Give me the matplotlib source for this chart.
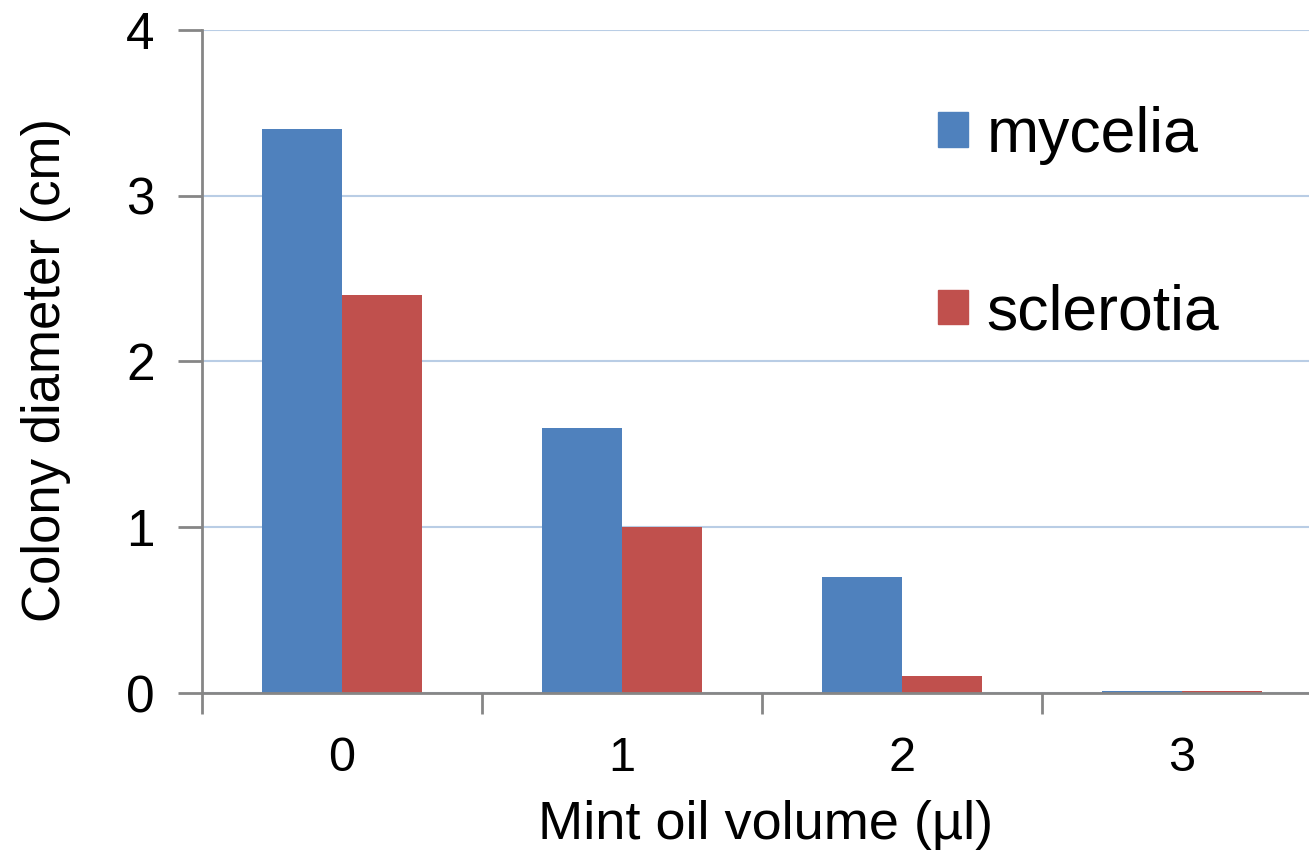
import numpy as np
import matplotlib.pyplot as plt
from matplotlib.patches import Patch

plt.rcParams['font.family'] = ['Liberation Sans', 'DejaVu Sans']

# data
volumes = ['0', '1', '2', '3']
mycelia = [3.4, 1.6, 0.7, 0.01]
sclerotia = [2.4, 1.0, 0.1, 0.01]

blue = '#4F81BD'
red = '#C0504D'
grey = '#868686'

fig = plt.figure(figsize=(13.09, 8.56), dpi=100)
ax = fig.add_axes([0.1543, 0.1904, 0.8556, 0.7746])

x = np.arange(len(volumes))
w = 0.286
ax.bar(x - w / 2, mycelia, w, color=blue, zorder=3)
ax.bar(x + w / 2, sclerotia, w, color=red, zorder=3)

ax.set_xlim(-0.5, 3.5)
ax.set_ylim(0, 4)
ax.set_yticks([0, 1, 2, 3, 4])
ax.set_xticks(x)
ax.set_xticklabels(volumes)
ax.set_xticks(np.arange(-0.5, 3.5, 1), minor=True)
ax.tick_params(axis='x', which='major', length=0, pad=31, labelsize=35)
ax.tick_params(axis='x', which='minor', length=15, width=2, color=grey, direction='out')
ax.tick_params(axis='y', length=17, width=2, color=grey, pad=17, labelsize=37)

ax.yaxis.grid(True, color='#B9CDE5', linewidth=1.5, zorder=0)
for s in ['top', 'right']:
    ax.spines[s].set_visible(False)
for s in ['left', 'bottom']:
    ax.spines[s].set_color(grey)
    ax.spines[s].set_linewidth(2)
    ax.spines[s].set_zorder(4)

ax.set_xlabel('Mint oil volume (µl)', fontsize=39)
ax.set_ylabel('Colony diameter (cm)', fontsize=38)
ax.xaxis.set_label_coords(0.503, -0.162)
ax.yaxis.set_label_coords(-0.117, 0.487)

handles = [Patch(color=blue, label='mycelia'), Patch(color=red, label='sclerotia')]
ax.legend(handles=handles, loc='upper left', bbox_to_anchor=(0.657, 0.886),
          frameon=False, fontsize=45, handlelength=0.48, handleheight=0.48,
          handletextpad=0.3, labelspacing=1.9, borderaxespad=0, borderpad=0)

fig.savefig('out.png', dpi=100)
